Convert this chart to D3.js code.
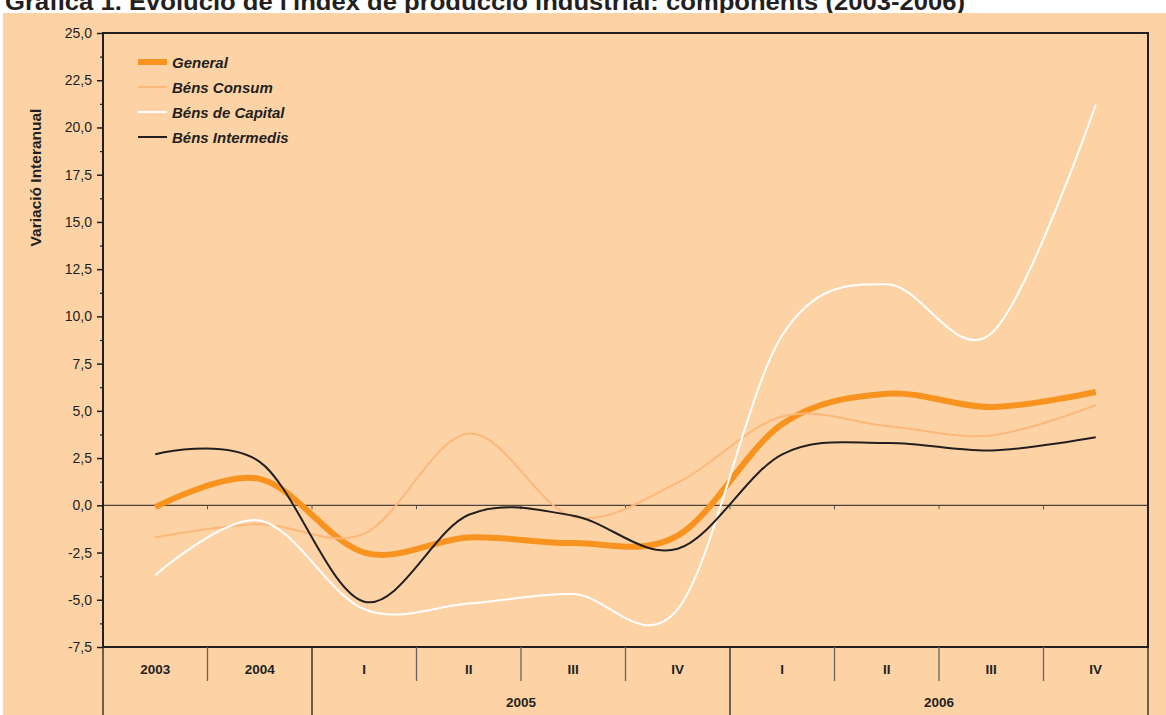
<!DOCTYPE html>
<html>
<head>
<meta charset="utf-8">
<script src="https://cdn.jsdelivr.net/npm/d3@7"></script>
<style>
  html, body { margin: 0; padding: 0; background: #ffffff; }
  svg { display: block; font-family: "Liberation Sans", Arial, sans-serif; }
</style>
</head>
<body>
<div id="chart"></div>
<script>
// Periodes (eix de categories)
const periods = ["2003", "2004", "2005 I", "2005 II", "2005 III", "2005 IV", "2006 I", "2006 II", "2006 III", "2006 IV"];
const periodYear = ["2003", "2004", "2005", "2005", "2005", "2005", "2006", "2006", "2006", "2006"];
const periodQuarter = ["", "", "I", "II", "III", "IV", "I", "II", "III", "IV"];

// Sèries (variació interanual, %)
const general = [-0.1, 1.4, -2.5, -1.7, -2.0, -1.6, 4.3, 5.9, 5.2, 6.0];
const bensConsum = [-1.7, -1.0, -1.5, 3.8, -0.6, 1.2, 4.7, 4.2, 3.7, 5.3];
const bensCapital = [-3.7, -0.8, -5.5, -5.2, -4.7, -5.5, 9.0, 11.7, 9.1, 21.2];
const bensIntermedis = [2.7, 2.3, -5.1, -0.5, -0.55, -2.3, 2.7, 3.3, 2.9, 3.6];

// Marques de l'eix Y
const yTickValues = [-7.5, -5, -2.5, 0, 2.5, 5, 7.5, 10, 12.5, 15, 17.5, 20, 22.5, 25];

const title = "Gràfica 1. Evolució de l'índex de producció industrial: components (2003-2006)";

const series = [
    { name: "General", values: general, color: "#F7931E", width: 6 },
    { name: "Béns Consum", values: bensConsum, color: "#FCB77A", width: 2 },
    { name: "Béns de Capital", values: bensCapital, color: "#FFFFFF", width: 2 },
    { name: "Béns Intermedis", values: bensIntermedis, color: "#231F20", width: 2 }
];

const W = 1166, H = 715;
const plotLeft = 103, plotRight = 1148, plotTop = 33, plotBottom = 647;
const ink = "#231F20";
const bg = "#FDD3A6";

const svg = d3.select("#chart").append("svg")
    .attr("width", W)
    .attr("height", H);

// títol (tallat a dalt, com a l'original)
svg.append("text")
    .attr("x", 5)
    .attr("y", 10)
    .attr("font-size", "24px")
    .attr("font-weight", "bold")
    .attr("fill", ink)
    .attr("textLength", 960)
    .attr("lengthAdjust", "spacingAndGlyphs")
    .text(title);

// fons
svg.append("rect")
    .attr("x", 3).attr("y", 13)
    .attr("width", W - 3).attr("height", H - 13)
    .attr("fill", bg);

// escales
const x = d3.scaleBand()
    .domain(periods)
    .range([plotLeft, plotRight])
    .padding(0);

const y = d3.scaleLinear()
    .domain([-7.5, 25])
    .range([plotBottom, plotTop]);

const fmt = v => d3.format(".1f")(v).replace(".", ",").replace("−", "-");

// eix Y principal
const yAxis = svg.append("g")
    .attr("transform", `translate(${plotLeft},0)`)
    .call(d3.axisLeft(y).tickValues(yTickValues).tickSize(6).tickPadding(5).tickFormat(fmt));
yAxis.select(".domain").remove();
yAxis.selectAll("line").attr("stroke", ink).attr("stroke-width", 1.5);
yAxis.selectAll("text")
    .attr("font-family", "'Liberation Sans', Arial, sans-serif")
    .attr("font-size", "14px")
    .attr("fill", ink);

// marques menors
const minorTicks = yTickValues.slice(0, -1).map(v => v + 1.25);
svg.append("g")
    .attr("transform", `translate(${plotLeft},0)`)
    .call(d3.axisLeft(y).tickValues(minorTicks).tickSize(3).tickFormat(""))
    .call(g => g.select(".domain").remove())
    .selectAll("line").attr("stroke", ink).attr("stroke-width", 1.2);

// títol de l'eix Y
svg.append("text")
    .attr("transform", `translate(41,177.5) rotate(-90)`)
    .attr("text-anchor", "middle")
    .attr("font-size", "15.5px")
    .attr("font-weight", "bold")
    .attr("fill", ink)
    .text("Variació Interanual");

// línia del zero amb marques
svg.append("line")
    .attr("x1", plotLeft).attr("x2", plotRight)
    .attr("y1", y(0)).attr("y2", y(0))
    .attr("stroke", ink).attr("stroke-width", 1);

svg.selectAll(".zero-tick")
    .data(periods.slice(1))
    .enter()
    .append("line")
    .attr("class", "zero-tick")
    .attr("x1", d => x(d)).attr("x2", d => x(d))
    .attr("y1", y(0)).attr("y2", y(0) + 4)
    .attr("stroke", "#555").attr("stroke-width", 1);

// línies de les sèries
const line = d3.line()
    .x((d, i) => x(periods[i]) + x.bandwidth() / 2)
    .y(d => y(d))
    .curve(d3.curveCardinal.tension(0));

svg.selectAll(".serie")
    .data(series)
    .enter()
    .append("path")
    .attr("class", "serie")
    .attr("d", d => line(d.values))
    .attr("fill", "none")
    .attr("stroke", d => d.color)
    .attr("stroke-width", d => d.width)
    .attr("stroke-linejoin", "round");

// marc del gràfic
svg.append("rect")
    .attr("x", plotLeft).attr("y", plotTop)
    .attr("width", plotRight - plotLeft).attr("height", plotBottom - plotTop)
    .attr("fill", "none")
    .attr("stroke", ink)
    .attr("stroke-width", 2);

// taula de categories sota el gràfic
const row1 = plotBottom + 34;
periods.forEach((p, i) => {
    const xb = x(p);
    const long = i === 0 || (periodYear[i] !== periodYear[i - 1] && (periodQuarter[i] || periodQuarter[i - 1]));
    svg.append("line")
        .attr("x1", xb).attr("x2", xb)
        .attr("y1", plotBottom).attr("y2", long ? H : row1)
        .attr("stroke", long ? ink : "#6b6160")
        .attr("stroke-width", 1.3);
});
svg.append("line")
    .attr("x1", plotRight).attr("x2", plotRight)
    .attr("y1", plotBottom).attr("y2", H)
    .attr("stroke", ink).attr("stroke-width", 1.3);

svg.selectAll(".cat-label")
    .data(periods)
    .enter()
    .append("text")
    .attr("class", "cat-label")
    .attr("x", d => x(d) + x.bandwidth() / 2)
    .attr("y", plotBottom + 27)
    .attr("text-anchor", "middle")
    .attr("font-size", "13.5px")
    .attr("font-weight", "bold")
    .attr("fill", ink)
    .text((d, i) => periodQuarter[i] || periodYear[i]);

// anys amb trimestres
const years = Array.from(new Set(periodYear.filter((d, i) => periodQuarter[i])));
years.forEach(yr => {
    const idx = periods.filter((p, i) => periodYear[i] === yr && periodQuarter[i]);
    const x0 = x(idx[0]);
    const x1 = x(idx[idx.length - 1]) + x.bandwidth();
    svg.append("text")
        .attr("x", (x0 + x1) / 2)
        .attr("y", plotBottom + 60)
        .attr("text-anchor", "middle")
        .attr("font-size", "13.5px")
        .attr("font-weight", "bold")
        .attr("fill", ink)
        .text(yr);
});

// llegenda
const legend = svg.append("g").attr("transform", "translate(138,62)");
series.forEach((s, i) => {
    const g = legend.append("g").attr("transform", `translate(0,${i * 25})`);
    g.append("line")
        .attr("x1", 0).attr("x2", 29)
        .attr("stroke", s.color)
        .attr("stroke-width", s.width);
    g.append("text")
        .attr("x", 34)
        .attr("y", 5.5)
        .attr("font-size", "15px")
        .attr("font-weight", "bold")
        .attr("font-style", "italic")
        .attr("fill", ink)
        .text(s.name);
});
</script>
</body>
</html>
